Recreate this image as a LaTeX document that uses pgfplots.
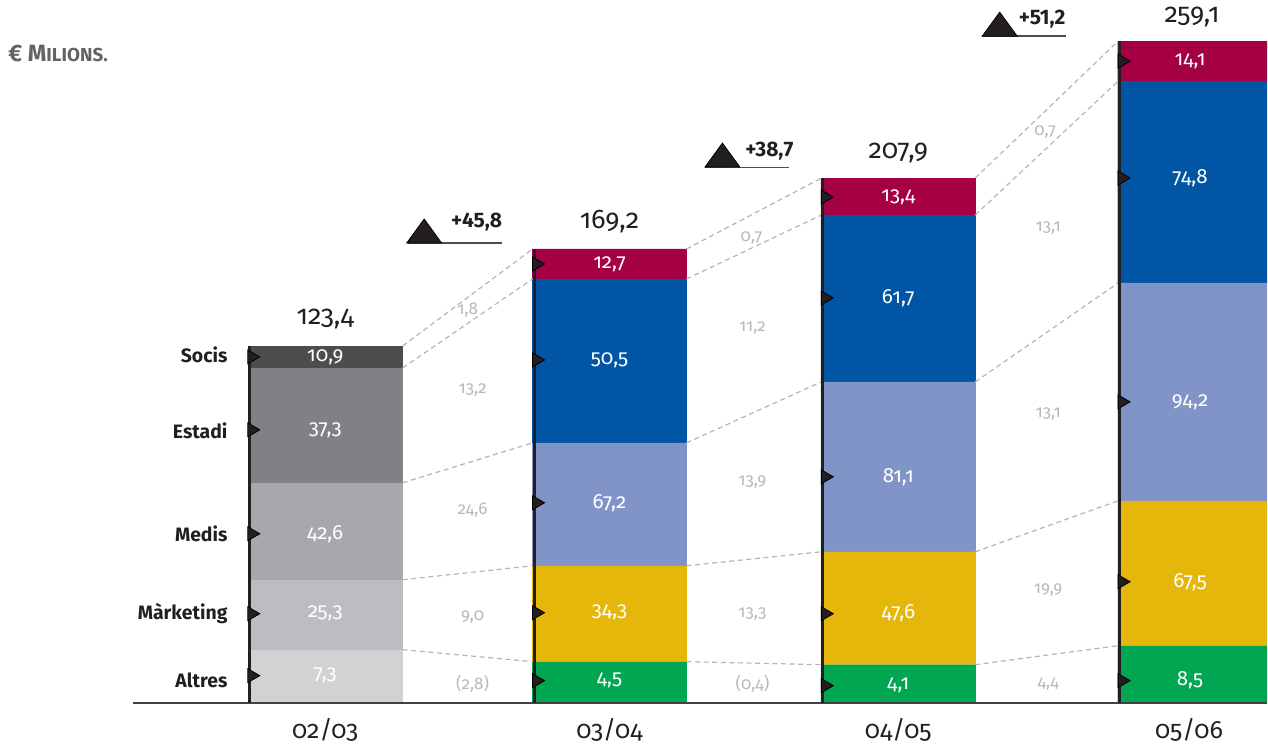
\documentclass[border=0pt]{standalone}
\usepackage{fontspec}
\setmainfont{Fira Sans}[Numbers=OldStyle]
\usepackage{pgfplots}
\usepackage{pgfplotstable}
\pgfplotsset{compat=1.18}

\definecolor{socisG}{HTML}{4D4D4F}
\definecolor{estadiG}{HTML}{808184}
\definecolor{medisG}{HTML}{A7A8AB}
\definecolor{mktG}{HTML}{BCBDC0}
\definecolor{altresG}{HTML}{D1D2D4}
\definecolor{socisC}{HTML}{A50044}
\definecolor{estadiC}{HTML}{0055A4}
\definecolor{medisC}{HTML}{8194C7}
\definecolor{mktC}{HTML}{E6B70B}
\definecolor{altresC}{HTML}{00A651}
\definecolor{diffgray}{HTML}{B8B8B8}
\definecolor{dashgray}{HTML}{B5B5B5}
\definecolor{dk}{HTML}{231F20}

% drawn segment heights (the chart is not drawn to scale); labels are the values in EUR millions
\pgfplotstableread{
x     Altres Marketing Medis Estadi Socis
325.5 53     70        97    115    22
}\barA
\pgfplotstableread{
x     Altres Marketing Medis Estadi Socis
610   41     96        123   164    30
899   38     113       170   167    37
1196  57     145       218   202    40
}\barB

% segment values: mark x (left edge), label x (centre), label y, value
\pgfplotstableread{
xl    xc     y    label
252   325.5  346  10,9
252   325.5  273  37,3
252   325.5  169  42,6
252   325.5  89   25,3
252   325.5  27   7,3
537   610    439  12,7
537   610    343  50,5
537   610    200  67,2
537   610    90   34,3
537   610    22   4,5
826   899    506  13,4
826   899    405  61,7
826   899    226  81,1
826   899    89   47,6
826   899    17   4,1
1123  1191   642  14,1
1123  1191   525  74,8
1123  1191   301  94,2
1123  1191   121  67,5
1123  1191   22   8,5
}\vals

% changes between years
\pgfplotstableread{
x     y    label
468   393  1,8
473   313  13,2
473   193  24,6
473   86   9,0
473   19   (2,8)
752   465  0,7
753   375  11,2
753   221  13,9
753   89   13,3
753   19   (0,4)
1046  571  0,7
1049  475  13,1
1049  289  13,1
1049  113  19,9
1049  19   4,4
}\diffs

% totals
\pgfplotstableread{
x     y    label
325.5 384  123,4
610   481  169,2
899   550  207,9
1193  686  259,1
}\totals

% total increase
\pgfplotstableread{
x      y    tx   ty   label
424.5  468  477  481  +45,8
723    544  770  552  +38,7
1000.5 675  1043 684  +51,2
}\deltas

\pgfplotstableread{
x    y    label
228  348  Socis
228  272  Estadi
228  169  Medis
228  89   Màrketing
228  22   Altres
}\cats

% dashed connectors
\pgfplotstableread{
x    y
403  357
533  454
nan  nan
403  335
533  424
nan  nan
403  220
533  260
nan  nan
403  123
533  137
nan  nan
403  53
533  41
nan  nan
687  454
822  525
nan  nan
687  424
822  488
nan  nan
687  260
822  321
nan  nan
687  137
822  151
nan  nan
687  41
822  38
nan  nan
976  525
1119 662
nan  nan
976  488
1119 622
nan  nan
976  321
1119 420
nan  nan
976  151
1119 202
nan  nan
976  38
1119 57
}\dashes

\pgfplotstableread{
x      y
249.5  0
249.5  357
nan    nan
534.5  0
534.5  454
nan    nan
823.5  0
823.5  525
nan    nan
1120.5 0
1120.5 662
}\stems

\pgfplotstableread{
x     y
408   460
502   460
nan   nan
706   535.5
790   535.5
nan   nan
983   667
1067  667
}\underl

\begin{document}
\begin{tikzpicture}
\pgfplotsset{
  base/.style={scale only axis, width=634pt, height=373.5pt,
    xmin=0, xmax=1268, ymin=-44, ymax=703},
  lbl/.style={draw=none, mark=none, nodes near coords,
    point meta=explicit symbolic,
    nodes near coords style={anchor=center, inner sep=0pt}},
}
% bar 02/03 (grey)
\begin{axis}[base, hide axis, ybar stacked, bar width=155]
\addplot[fill=altresG, draw=none] table[x=x, y=Altres] {\barA};
\addplot[fill=mktG, draw=none] table[x=x, y=Marketing] {\barA};
\addplot[fill=medisG, draw=none] table[x=x, y=Medis] {\barA};
\addplot[fill=estadiG, draw=none] table[x=x, y=Estadi] {\barA};
\addplot[fill=socisG, draw=none] table[x=x, y=Socis] {\barA};
\end{axis}
% bars 03/04 - 05/06
\begin{axis}[base, hide axis, ybar stacked, bar width=155]
\addplot[fill=altresC, draw=none] table[x=x, y=Altres] {\barB};
\addplot[fill=mktC, draw=none] table[x=x, y=Marketing] {\barB};
\addplot[fill=medisC, draw=none] table[x=x, y=Medis] {\barB};
\addplot[fill=estadiC, draw=none] table[x=x, y=Estadi] {\barB};
\addplot[fill=socisC, draw=none] table[x=x, y=Socis] {\barB};
\end{axis}
% decorations
\begin{axis}[base, clip=false,
  axis line style={draw=none}, ytick=\empty, major tick length=0pt,
  xtick={325.5,610,899,1190},
  xticklabels={02/03,03/04,04/05,05/06},
  xticklabel style={anchor=center, yshift=8.5pt, text=dk,
    font=\fontsize{12.5}{15}\selectfont},
  unbounded coords=jump]
% baseline
\addplot[draw=dk!85, line width=1pt] coordinates {(133,0) (1268,0)};
% dashed connectors
\addplot[dashgray, line width=0.6pt, dash pattern=on 2.5pt off 1.8pt] table[x=x, y=y] {\dashes};
% left stems
\addplot[dk, line width=1.5pt] table[x=x, y=y] {\stems};
% pointers
\addplot[only marks, mark=triangle*, mark size=4pt,
  mark options={rotate=-90, fill=dk, draw=none}] table[x=xl, y=y] {\vals};
% values in bars
\addplot[lbl, nodes near coords style={text=white, font=\fontsize{10.3}{12}\selectfont}]
  table[x=xc, y=y, meta=label] {\vals};
% differences
\addplot[lbl, nodes near coords style={text=diffgray, font=\fontsize{8.5}{10}\selectfont}]
  table[x=x, y=y, meta=label] {\diffs};
% totals
\addplot[lbl, nodes near coords style={text=dk, font=\fontsize{13.5}{16}\selectfont}]
  table[x=x, y=y, meta=label] {\totals};
% increase triangles
\addplot[only marks, mark=triangle*, mark size=8pt,
  mark options={xscale=1.26, fill=dk, draw=none}] table[x=x, y=y] {\deltas};
\addplot[dk!80, line width=0.8pt] table[x=x, y=y] {\underl};
\addplot[lbl, nodes near coords style={text=dk,
  font=\bfseries\fontsize{10.5}{12}\selectfont\addfontfeatures{Numbers=Lining}}]
  table[x=tx, y=ty, meta=label] {\deltas};
% category names
\addplot[lbl, nodes near coords style={anchor=east, text=dk,
  font=\bfseries\fontsize{9.7}{11}\selectfont}]
  table[x=x, y=y, meta=label] {\cats};
% unit
\addplot[lbl, nodes near coords style={anchor=west, text=dk!70,
  font=\bfseries\fontsize{11.8}{14}\selectfont}]
  coordinates {(8,650) [{€ M{\fontsize{9.4}{11}\selectfont ILIONS.}}]};
\end{axis}
\end{tikzpicture}
\end{document}
